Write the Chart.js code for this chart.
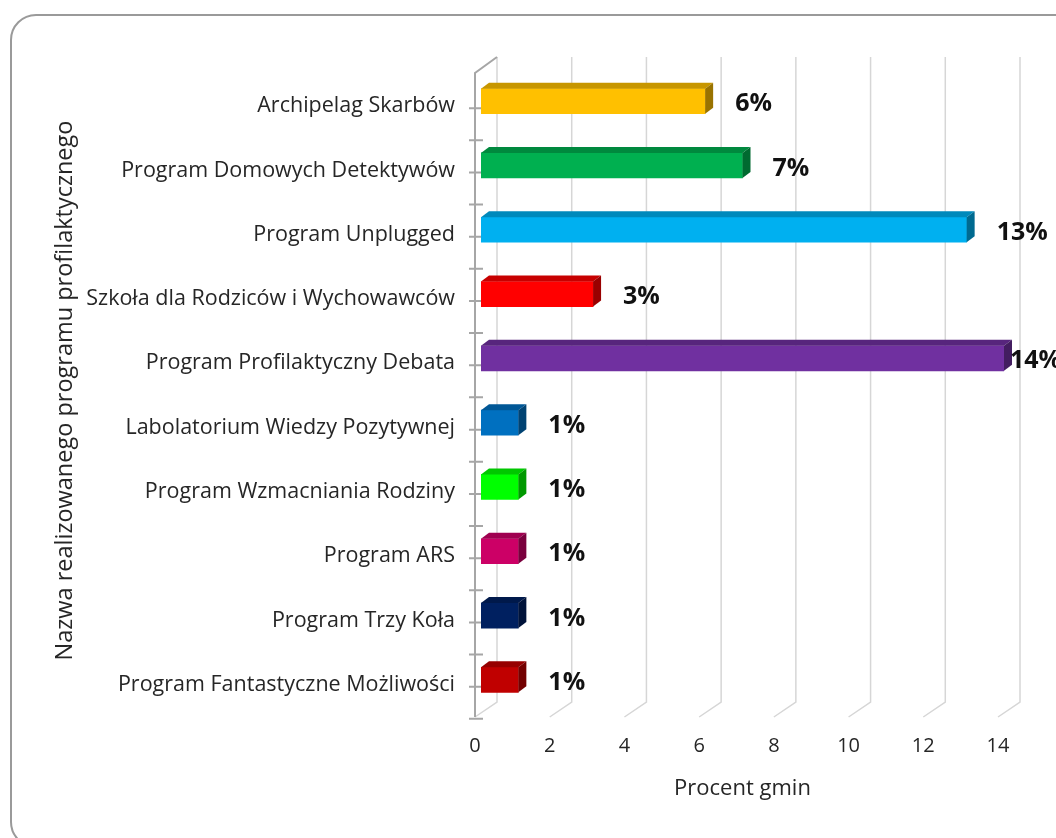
<!DOCTYPE html>
<html lang="pl">
<head>
<meta charset="utf-8">
<title>Programy profilaktyczne</title>
<script src="https://cdn.jsdelivr.net/npm/chart.js@4.4.1/dist/chart.umd.min.js"></script>
<style>
    html, body { margin: 0; padding: 0; background: #fff; overflow: hidden; }
    .wrap { position: relative; width: 1056px; height: 838px; }
    .frame {
        position: absolute; left: 10px; top: 14px;
        width: 1100px; height: 834px;
        border: 2px solid #9a9a9a; border-radius: 26px;
        box-sizing: border-box;
    }
    #chartProgramy { position: absolute; left: 0; top: 0; }
</style>
</head>
<body>
<div class="wrap">
    <div class="frame"></div>
    <canvas id="chartProgramy" width="1056" height="838"></canvas>
</div>
<script>
// Dane
const programy = [
    'Archipelag Skarbów',
    'Program Domowych Detektywów',
    'Program Unplugged',
    'Szkoła dla Rodziców i Wychowawców',
    'Program Profilaktyczny Debata',
    'Labolatorium Wiedzy Pozytywnej',
    'Program Wzmacniania Rodziny',
    'Program ARS',
    'Program Trzy Koła',
    'Program Fantastyczne Możliwości'
];
const procentGmin = [6, 7, 13, 3, 14, 1, 1, 1, 1, 1];
const koloryBarow = ['#FFC000', '#00B050', '#00B0F0', '#FF0000', '#7030A0',
                     '#0070C0', '#00FF00', '#CC0066', '#002060', '#C00000'];
const osXWartosci = [0, 2, 4, 6, 8, 10, 12, 14];
const tytulOsiY = 'Nazwa realizowanego programu profilaktycznego';
const tytulOsiX = 'Procent gmin';

(function() {
    'use strict';

    function darken(hex, f) {
        const n = parseInt(hex.slice(1), 16);
        const r = Math.round(((n >> 16) & 255) * f);
        const g = Math.round(((n >> 8) & 255) * f);
        const b = Math.round((n & 255) * f);
        return 'rgb(' + r + ',' + g + ',' + b + ')';
    }

    // sciana tylna, podloga i os kategorii (efekt 3D)
    const scena3d = {
        id: 'scena3d',
        beforeDatasetsDraw(chart) {
            const { ctx, chartArea: a, scales: { x, y } } = chart;
            ctx.save();
            ctx.lineWidth = 1.5;
            ctx.strokeStyle = '#d6d6d6';
            x.ticks.forEach(t => {
                const px = x.getPixelForValue(t.value);
                ctx.beginPath();
                ctx.moveTo(px + 16, a.top - 12);
                ctx.lineTo(px + 16, a.bottom - 10);
                ctx.lineTo(px - 6, a.bottom + 5);
                ctx.stroke();
            });
            const x0 = x.getPixelForValue(0);
            ctx.strokeStyle = '#a6a6a6';
            ctx.lineWidth = 2;
            ctx.beginPath();
            ctx.moveTo(x0 + 16, a.top - 12);
            ctx.lineTo(x0 - 6, a.top + 4);
            ctx.lineTo(x0 - 6, a.bottom + 5);
            ctx.stroke();
            ctx.beginPath();
            programy.forEach((p, i) => {
                const c = y.getPixelForValue(i);
                [c + 7, c + 39].forEach(ty => {
                    ctx.moveTo(x0 - 12, ty);
                    ctx.lineTo(x0 + 2, ty);
                });
            });
            ctx.stroke();
            ctx.restore();
        },
        afterDatasetsDraw(chart) {
            const { ctx } = chart;
            const meta = chart.getDatasetMeta(0);
            ctx.save();
            meta.data.forEach((bar, i) => {
                const { x, y, base, height } = bar.getProps(['x', 'y', 'base', 'height'], true);
                const top = y - height / 2;
                const bottom = y + height / 2;
                const dx = 8, dy = 6;
                // gorna sciana
                ctx.fillStyle = darken(koloryBarow[i], 0.78);
                ctx.beginPath();
                ctx.moveTo(base, top);
                ctx.lineTo(x, top);
                ctx.lineTo(x + dx, top - dy);
                ctx.lineTo(base + dx, top - dy);
                ctx.closePath();
                ctx.fill();
                // boczna sciana
                ctx.fillStyle = darken(koloryBarow[i], 0.6);
                ctx.beginPath();
                ctx.moveTo(x, top);
                ctx.lineTo(x + dx, top - dy);
                ctx.lineTo(x + dx, bottom - dy);
                ctx.lineTo(x, bottom);
                ctx.closePath();
                ctx.fill();
                // etykieta wartosci
                ctx.fillStyle = '#111';
                ctx.font = 'bold 25px "Open Sans"';
                ctx.textAlign = 'left';
                ctx.textBaseline = 'middle';
                const lx = Math.min(x + 30, chart.width - 46);
                ctx.fillText(procentGmin[i] + '%', lx, y + 3);
            });
            ctx.restore();
        }
    };

    function initChart() {
        const ctx = document.getElementById('chartProgramy');
        Chart.defaults.font.family = '"Open Sans", sans-serif';
        Chart.defaults.color = '#262626';

        new Chart(ctx, {
            type: 'bar',
            data: {
                labels: programy,
                datasets: [{
                    data: procentGmin,
                    backgroundColor: koloryBarow,
                    borderWidth: 0,
                    barThickness: 25
                }]
            },
            options: {
                indexAxis: 'y',
                responsive: false,
                animation: false,
                devicePixelRatio: 1,
                layout: { padding: { left: 0, top: 69, right: 52, bottom: 0 } },
                plugins: {
                    legend: { display: false },
                    tooltip: { enabled: false }
                },
                scales: {
                    x: {
                        min: 0,
                        max: 14,
                        afterBuildTicks: s => { s.ticks = osXWartosci.map(v => ({ value: v })); },
                        afterFit: s => { s.height = 126; },
                        grid: { display: false, drawTicks: false },
                        border: { display: false },
                        ticks: { padding: 22, labelOffset: -6, font: { size: 20 } },
                        title: {
                            display: true,
                            text: tytulOsiX,
                            font: { size: 22 },
                            padding: { top: 0, bottom: 36 }
                        }
                    },
                    y: {
                        afterFit: s => { s.width = 481; },
                        grid: { display: false, drawTicks: false },
                        border: { display: false },
                        ticks: { padding: 26, labelOffset: 5, autoSkip: false, font: { size: 21.5 } },
                        title: {
                            display: true,
                            text: tytulOsiY,
                            font: { size: 23.5 },
                            padding: { top: 51, bottom: 0 }
                        }
                    }
                }
            },
            plugins: [scena3d]
        });
    }

    Promise.all([
        document.fonts.load('21px "Open Sans"'),
        document.fonts.load('bold 24px "Open Sans"')
    ]).then(initChart, initChart);
})();
</script>
</body>
</html>
